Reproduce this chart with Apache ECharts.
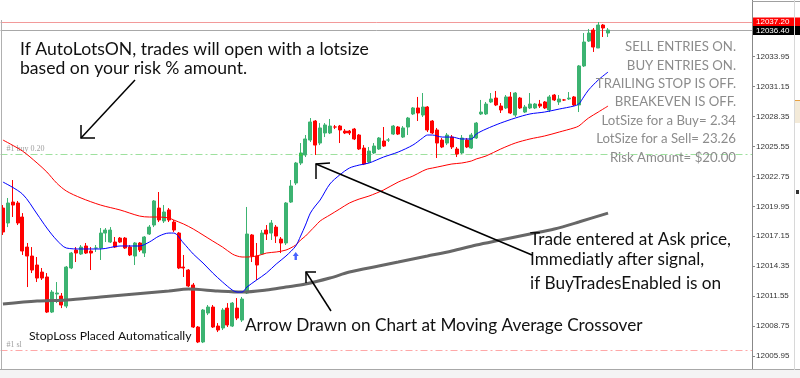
<!DOCTYPE html>
<html>
<head>
<meta charset="utf-8">
<script src="https://cdn.jsdelivr.net/npm/echarts@6/dist/echarts.min.js"></script>
<style>
html,body{margin:0;padding:0;background:#fff;}
#chart{width:800px;height:378px;}
</style>
</head>
<body>
<div id="chart"></div>
<script>
// ---- data ----
const barCount = 154; // slots on the time axis (125 bars + chart shift)
const bars = Array.from({length: barCount}, (_, i) => String(i));

// [open, close, low, high]
const candles = [
[12019.79,12017.55,12017.27,12020.07],
[12018.39,12020.26,12018.01,12020.73],
[12020.35,12020.07,12018.95,12022.41],
[12020.26,12018.39,12018.20,12020.45],
[12018.95,12015.77,12015.40,12019.32],
[12016.14,12015.30,12012.40,12016.52],
[12015.30,12013.99,12013.71,12016.14],
[12014.46,12013.24,12012.87,12015.21],
[12013.80,12013.24,12013.06,12014.18],
[12013.34,12010.06,12009.97,12013.71],
[12010.06,12011.93,12009.97,12012.12],
[12011.75,12011.84,12010.90,12012.87],
[12011.56,12010.72,12010.43,12011.84],
[12010.62,12014.27,12010.43,12014.37],
[12014.18,12015.58,12014.08,12015.68],
[12015.86,12015.58,12014.74,12016.14],
[12015.49,12016.14,12015.40,12016.33],
[12016.24,12015.58,12015.49,12016.52],
[12015.77,12015.58,12013.99,12016.14],
[12016.05,12016.05,12015.68,12016.33],
[12016.05,12017.45,12014.93,12017.92],
[12017.45,12017.73,12016.61,12017.92],
[12016.61,12017.73,12016.52,12018.01],
[12016.61,12016.14,12016.05,12017.08],
[12016.98,12016.61,12016.52,12017.08],
[12016.98,12016.05,12015.96,12017.08],
[12016.14,12015.40,12015.30,12016.33],
[12015.30,12016.52,12014.46,12016.61],
[12016.52,12015.86,12015.68,12016.61],
[12015.58,12017.08,12015.21,12017.17],
[12017.36,12018.01,12017.27,12018.20],
[12018.20,12020.45,12018.01,12020.54],
[12019.79,12018.67,12018.48,12021.29],
[12018.58,12019.42,12018.39,12020.07],
[12019.61,12018.67,12018.48,12019.79],
[12018.48,12017.73,12017.55,12018.67],
[12017.45,12014.18,12014.08,12017.55],
[12014.27,12014.18,12013.34,12015.40],
[12013.99,12012.50,12012.40,12014.08],
[12012.59,12008.66,12008.57,12012.78],
[12008.66,12007.26,12007.16,12008.75],
[12007.26,12010.25,12007.16,12010.34],
[12009.97,12010.53,12009.78,12010.72],
[12010.53,12008.66,12008.57,12010.72],
[12008.75,12008.38,12008.19,12009.03],
[12008.57,12010.25,12008.38,12010.43],
[12010.43,12008.85,12008.66,12010.90],
[12008.75,12010.90,12008.66,12011.00],
[12010.43,12009.50,12009.31,12011.37],
[12009.31,12011.28,12009.13,12011.47],
[12011.84,12017.36,12011.75,12019.89],
[12017.27,12015.30,12014.74,12017.36],
[12015.30,12014.46,12013.06,12016.52],
[12015.49,12017.45,12015.40,12017.73],
[12017.73,12017.36,12016.80,12018.20],
[12017.45,12018.39,12016.80,12018.67],
[12018.01,12017.17,12016.52,12018.20],
[12016.89,12016.52,12015.58,12017.08],
[12016.52,12020.26,12016.33,12020.35],
[12020.35,12021.85,12020.26,12022.41],
[12022.13,12024.00,12021.94,12024.10],
[12024.00,12024.94,12023.81,12025.87],
[12024.75,12026.25,12024.56,12026.62],
[12026.15,12027.84,12025.97,12028.21],
[12027.93,12025.68,12024.75,12028.02],
[12025.87,12027.28,12025.68,12027.74],
[12026.81,12027.56,12026.43,12027.74],
[12026.81,12027.46,12026.71,12028.12],
[12027.37,12027.37,12027.18,12027.56],
[12027.46,12027.09,12025.87,12027.56],
[12026.99,12026.81,12026.71,12027.18],
[12026.99,12026.81,12026.62,12027.09],
[12027.18,12026.25,12026.15,12027.28],
[12026.62,12025.31,12025.22,12026.71],
[12025.40,12023.91,12023.81,12025.68],
[12024.10,12025.12,12024.00,12025.50],
[12024.94,12025.59,12024.84,12025.87],
[12025.31,12026.34,12025.22,12026.43],
[12026.06,12025.59,12025.50,12027.37],
[12026.15,12026.15,12025.97,12026.34],
[12026.71,12027.46,12026.62,12027.56],
[12027.37,12026.71,12026.62,12027.46],
[12026.43,12027.28,12026.34,12027.46],
[12027.37,12028.21,12026.62,12028.31],
[12028.59,12029.15,12028.49,12029.24],
[12029.15,12028.68,12027.93,12030.18],
[12028.49,12029.24,12028.31,12030.55],
[12029.24,12027.09,12026.90,12029.33],
[12027.93,12026.81,12026.71,12028.02],
[12027.09,12025.87,12024.47,12027.28],
[12026.15,12025.50,12025.40,12026.34],
[12025.87,12026.62,12025.68,12026.81],
[12026.43,12025.50,12025.31,12026.62],
[12025.31,12024.84,12024.56,12025.50],
[12024.94,12026.34,12024.84,12026.62],
[12026.15,12025.50,12025.40,12026.34],
[12025.40,12026.62,12025.31,12026.81],
[12026.34,12027.74,12026.25,12027.84],
[12028.59,12028.77,12028.49,12029.90],
[12028.59,12029.52,12028.49,12029.71],
[12029.71,12029.99,12029.61,12030.55],
[12030.08,12029.43,12029.33,12030.74],
[12029.33,12028.96,12028.68,12029.61],
[12029.15,12030.18,12029.05,12030.36],
[12030.18,12028.68,12028.59,12030.64],
[12028.49,12030.55,12028.31,12030.64],
[12030.08,12029.15,12029.05,12030.18],
[12028.77,12029.24,12028.68,12029.43],
[12029.15,12029.52,12029.05,12030.55],
[12029.15,12029.52,12029.05,12029.61],
[12029.52,12029.33,12029.15,12029.90],
[12029.71,12029.15,12029.05,12029.80],
[12028.96,12030.18,12028.77,12030.36],
[12030.36,12029.90,12029.80,12030.46],
[12029.71,12029.99,12029.43,12030.36],
[12029.90,12029.90,12029.80,12029.99],
[12029.99,12030.08,12029.90,12030.64],
[12030.18,12029.43,12029.33,12030.27],
[12029.43,12033.08,12028.77,12033.17],
[12033.08,12035.32,12032.98,12036.16],
[12035.41,12036.16,12035.32,12036.54],
[12036.44,12034.85,12034.39,12036.63],
[12034.76,12036.91,12034.76,12037.19],
[12036.91,12036.63,12035.79,12037.00],
[12036.16,12036.44,12035.79,12036.63]
];

// moving averages read at selected bars: [bar index, price]
const fastMA = [
[0,12022.22],[4,12021.10],[7,12019.23],[9,12017.92],[11,12016.80],[13,12016.05],[16,12015.96],[20,12015.96],
[24,12016.24],[28,12016.24],[30,12016.61],[32,12017.17],[34,12017.45],[35,12017.45],[37,12016.52],[39,12015.49],
[41,12014.65],[43,12013.71],[45,12012.87],[47,12012.12],[48,12011.93],[49,12011.93],[50,12012.40],[52,12013.06],
[54,12013.71],[56,12014.55],[58,12015.30],[60,12016.24],[61,12017.17],[62,12018.20],[63,12019.32],[64,12019.98],
[65,12020.54],[67,12022.04],[69,12022.88],[71,12023.53],[73,12023.81],[75,12024.00],[78,12024.56],[81,12025.03],
[84,12025.68],[86,12026.34],[87,12026.62],[88,12026.62],[90,12026.43],[92,12026.43],[94,12026.25],[96,12026.25],
[97,12026.71],[99,12027.18],[102,12027.74],[105,12028.21],[108,12028.59],[111,12028.77],[114,12029.05],[117,12029.33],
[118,12029.52],[119,12030.18],[120,12030.83],[122,12031.77],[124,12032.51]
];
const slowMA = [
[0,12026.15],[4,12025.12],[7,12024.00],[9,12023.16],[11,12022.13],[13,12021.38],[16,12020.73],[20,12020.07],
[24,12019.61],[28,12019.04],[30,12018.95],[32,12018.95],[34,12018.86],[35,12018.67],[37,12018.30],[39,12017.83],
[41,12017.27],[43,12016.70],[45,12016.14],[47,12015.49],[48,12015.30],[49,12015.21],[50,12015.21],[52,12015.30],
[54,12015.58],[56,12015.68],[58,12015.86],[60,12016.33],[61,12016.80],[62,12017.17],[63,12017.64],[64,12018.11],
[65,12018.58],[67,12019.14],[69,12019.70],[71,12020.26],[73,12020.63],[75,12020.91],[78,12021.48],[81,12022.22],
[84,12022.78],[86,12023.25],[87,12023.44],[88,12023.53],[90,12023.72],[92,12023.91],[94,12024.00],[96,12024.19],
[97,12024.38],[99,12024.66],[102,12025.31],[105,12025.87],[108,12026.25],[111,12026.53],[114,12026.90],[117,12027.28],
[118,12027.46],[119,12027.84],[120,12028.21],[122,12028.77],[124,12029.33]
];
const longMA = [
[0,12010.81],[7,12011.09],[13,12011.19],[20,12011.47],[27,12011.75],[34,12012.03],[38,12012.21],[44,12012.03],
[49,12011.93],[54,12012.12],[58,12012.40],[62,12012.68],[67,12013.24],[71,12013.80],[77,12014.37],[81,12014.74],
[87,12015.30],[92,12015.77],[97,12016.33],[102,12016.80],[108,12017.36],[113,12017.83],[118,12018.48],[124,12019.32]
];

const priceTicks = [12005.95,12008.75,12011.55,12014.35,12017.15,12019.95,12022.75,12025.55,12028.35,12031.15,12033.95];
const askPrice = 12037.20;
const bidPrice = 12036.40;
const buyEntry = 12024.84;
const stopLoss = 12006.52;
const signalArrow = [[60, 12015.30]];
const entryMark = [[61, 12024.84]];

const infoLines = ['SELL ENTRIES ON.','BUY ENTRIES ON.','TRAILING STOP IS OFF.','BREAKEVEN IS OFF.',
  'LotSize for a Buy= 2.34','LotSize for a Sell= 23.26','Risk Amount= $20.00'];

// ---- chart ----
const chart = echarts.init(document.getElementById('chart'), null, {renderer: 'canvas'});
const GREEN = '#3cb371', RED = '#ff0000';
const F = 'Lato, "Open Sans", sans-serif';

function txt(text, x, y, size, color, align) {
  return {type: 'text', x: x, y: y, z: 100, silent: true,
    style: {text: text, fill: color, font: size + 'px ' + F, align: align || 'left', verticalAlign: 'middle'}};
}
function pl(points, w) {
  return {type: 'polyline', z: 100, silent: true, shape: {points: points},
    style: {stroke: '#000', lineWidth: w || 1.5, fill: null}};
}

const graphics = [
  // frame bits
  {type:'line', z: 50, shape:{x1:1.5,y1:20,x2:1.5,y2:369}, style:{stroke:'#b0b0b0', lineWidth:1}},
  {type:'line', z: 50, shape:{x1:0,y1:369.5,x2:800,y2:369.5}, style:{stroke:'#a8a8a8', lineWidth:1}},
  {type:'rect', z: 49, shape:{x:0,y:370,width:800,height:8}, style:{fill:'#f4f4f4'}},
  {type:'line', z: 50, shape:{x1:752,y1:1.5,x2:800,y2:1.5}, style:{stroke:'#a0a0a0', lineWidth:1}},
  {type:'line', z: 50, shape:{x1:794.5,y1:0,x2:794.5,y2:370}, style:{stroke:'#d8d8d8', lineWidth:1}},
  {type:'rect', z: 50, shape:{x:795,y:100,width:5,height:23}, style:{fill:'#f3ead8'}},
  {type:'line', z: 50, shape:{x1:795,y1:100.5,x2:800,y2:100.5}, style:{stroke:'#e8a040', lineWidth:1}},
  {type:'rect', z: 50, shape:{x:796,y:190,width:3,height:4}, style:{fill:'#333'}},
  // annotations
  txt('If AutoLotsON, trades will open with a lotsize', 20, 49, 17.6, '#111'),
  txt('based on your risk % amount.', 20, 68, 17.6, '#111'),
  txt('Trade entered at Ask price,', 530, 239, 17.2, '#111'),
  txt('Immediatly after signal,', 530, 259, 17.2, '#111'),
  txt('if BuyTradesEnabled is on', 530, 283, 17.2, '#111'),
  txt('Arrow Drawn on Chart at Moving Average Crossover', 245, 325, 17.2, '#111'),
  txt('StopLoss Placed Automatically', 29, 336, 12.2, '#111'),
  pl([[135,80],[81,138]]), pl([[81,125],[81,138],[95,138]]),
  pl([[316,164],[532,255]]), pl([[316,179],[316,164],[330,163]]),
  pl([[306,272],[331,311]]), pl([[306,283],[306,272],[316,272]])
];
infoLines.forEach((t, k) => graphics.push(txt(t, 736, 47 + k * 18.4, 13.2, '#8c8c8c', 'right')));

chart.setOption({
  animation: false,
  backgroundColor: '#fff',
  grid: {left: 0.5, right: 48, top: 0, bottom: 8, containLabel: false},
  xAxis: {type: 'category', data: bars, boundaryGap: true, show: false},
  yAxis: {
    type: 'value', position: 'right', min: 12004.64, max: 12039.25, scale: true,
    splitLine: {show: false},
    axisLine: {show: true, lineStyle: {color: '#888', width: 1}},
    axisTick: {show: true, length: 3, lineStyle: {color: '#888'}, customValues: priceTicks},
    axisLabel: {show: true, margin: 4, color: '#333', fontSize: 8, fontFamily: 'Liberation Sans, Arial, sans-serif',
      customValues: priceTicks, formatter: v => v.toFixed(2)}
  },
  graphic: graphics,
  series: [
    {
      type: 'candlestick', data: candles, barWidth: 3.5, z: 2,
      itemStyle: {color: GREEN, color0: RED, borderColor: GREEN, borderColor0: RED, borderWidth: 1},
      markLine: {
        silent: true, symbol: 'none', animation: false, z: 1,
        data: [
          {yAxis: askPrice, lineStyle: {color: '#f29a9a', type: 'solid', width: 1},
            label: {show: true, position: 'end', distance: 1, formatter: askPrice.toFixed(2), color: '#fff',
              backgroundColor: '#ff0000', padding: [1, 12, 0, 3], fontSize: 8, fontFamily: 'Liberation Sans, Arial'}},
          {yAxis: bidPrice, lineStyle: {color: '#a8a8a8', type: 'solid', width: 1},
            label: {show: true, position: 'end', distance: 1, formatter: bidPrice.toFixed(2), color: '#fff',
              backgroundColor: '#000', padding: [1, 12, 0, 3], fontSize: 8, fontFamily: 'Liberation Sans, Arial'}},
          {yAxis: buyEntry, lineStyle: {color: '#9ee09e', type: [7, 3, 2, 3], width: 1},
            label: {show: true, position: 'insideStartTop', distance: [6, 1], formatter: '#1 buy 0.20', color: '#a0a0a0',
              fontSize: 8, fontFamily: 'Liberation Serif, serif'}},
          {yAxis: stopLoss, lineStyle: {color: '#ffa8a8', type: [7, 3, 2, 3], width: 1},
            label: {show: true, position: 'insideStartTop', distance: [6, 1], formatter: '#1 sl', color: '#a0a0a0',
              fontSize: 8, fontFamily: 'Liberation Serif, serif'}}
        ]
      }
    },
    {type: 'line', data: longMA, showSymbol: false, smooth: 0.3, z: 3,
      lineStyle: {color: '#676767', width: 3}},
    {type: 'line', data: slowMA, showSymbol: false, smooth: 0.3, z: 4,
      lineStyle: {color: '#ff0000', width: 1}},
    {type: 'line', data: fastMA, showSymbol: false, smooth: 0.3, z: 5,
      lineStyle: {color: '#0000ff', width: 1}},
    {type: 'scatter', data: signalArrow, z: 6, symbol: 'path://M5,0 L10,5 L7,5 L7,10 L3,10 L3,5 L0,5 Z',
      symbolSize: [6, 8], itemStyle: {color: '#1a3cff'}},
    {type: 'scatter', data: entryMark, z: 6, symbol: 'triangle', symbolSize: 4, itemStyle: {color: '#33cc33'}}
  ]
});
</script>
</body>
</html>
